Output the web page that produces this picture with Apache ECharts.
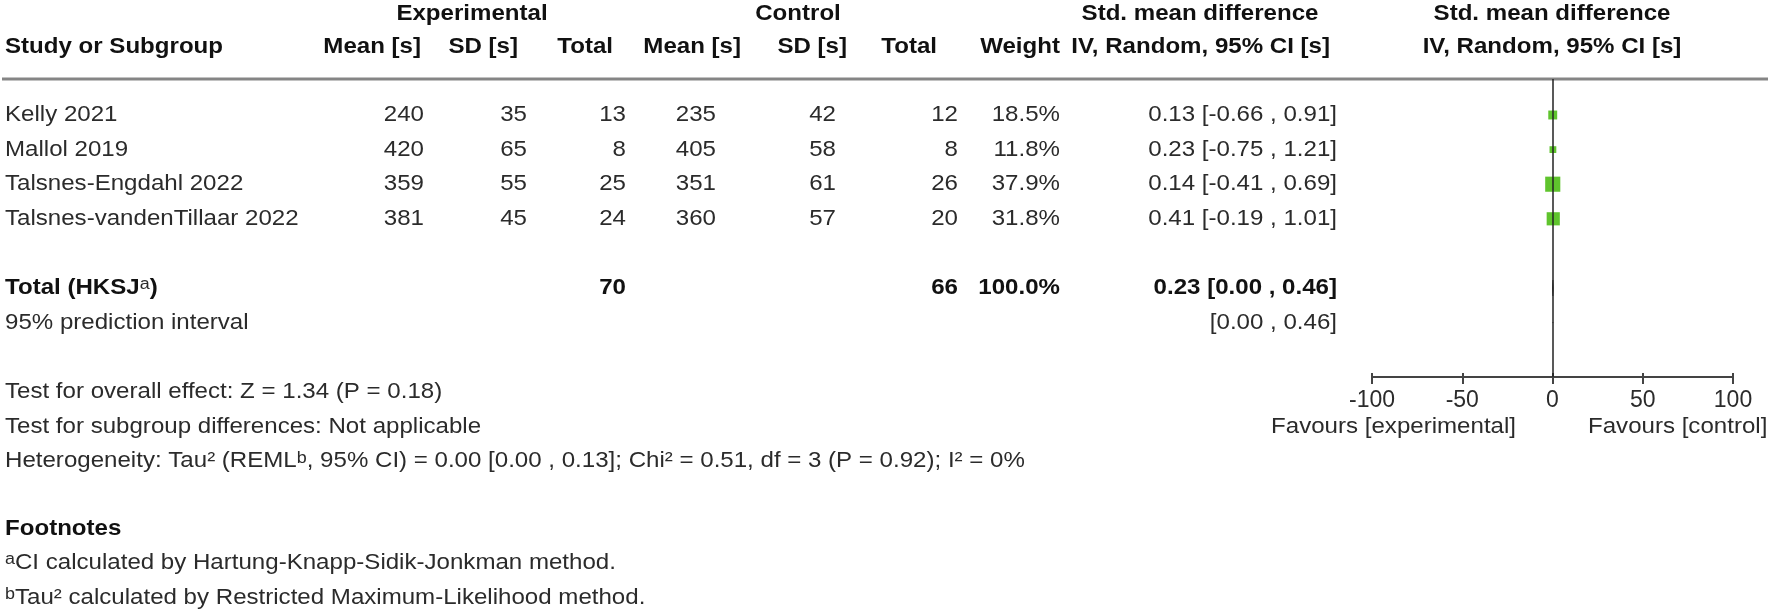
<!DOCTYPE html>
<html><head><meta charset="utf-8">
<script src="https://cdn.jsdelivr.net/npm/echarts@6/dist/echarts.min.js"></script>
<style>html,body{margin:0;padding:0;background:#fff}#c{width:1772px;height:615px}</style>
</head><body><div id="c"></div>
<script>
// ---------------- data ----------------
const studies = ['Kelly 2021', 'Mallol 2019', 'Talsnes-Engdahl 2022', 'Talsnes-vandenTillaar 2022'];
const expMean = [240, 420, 359, 381];
const expSD = [35, 65, 55, 45];
const expN = [13, 8, 25, 24];
const ctlMean = [235, 405, 351, 360];
const ctlSD = [42, 58, 61, 57];
const ctlN = [12, 8, 26, 20];
const weights = [18.5, 11.8, 37.9, 31.8];
const smd = [0.13, 0.23, 0.14, 0.41];
const ciLow = [-0.66, -0.75, -0.41, -0.19];
const ciHigh = [0.91, 1.21, 0.69, 1.01];
const totalExpN = 70, totalCtlN = 66, totalWeight = 100.0;
const totalSmd = 0.23, totalLow = 0.00, totalHigh = 0.46;
const piLow = 0.00, piHigh = 0.46;
const xTicks = [-100, -50, 0, 50, 100];
const headerTop = ['Experimental', 'Control', 'Std. mean difference'];
const headerCols = ['Study or Subgroup', 'Mean [s]', 'SD [s]', 'Total', 'Mean [s]', 'SD [s]', 'Total', 'Weight', 'IV, Random, 95% CI [s]'];
const favours = ['Favours [experimental]', 'Favours [control]'];
const statLines = [
  'Test for overall effect: Z = 1.34 (P = 0.18)',
  'Test for subgroup differences: Not applicable',
  'Heterogeneity: Tau\u00b2 (REML{sup|b}, 95% CI) = 0.00 [0.00 , 0.13]; Chi\u00b2 = 0.51, df = 3 (P = 0.92); I\u00b2 = 0%'
];
const footTitle = 'Footnotes';
const footLines = [
  '{sup|a}CI calculated by Hartung-Knapp-Sidik-Jonkman method.',
  '{sup|b}Tau\u00b2 calculated by Restricted Maximum-Likelihood method.'
];

// ---------------- layout / style ----------------
const FONT = '"Liberation Sans", Arial, sans-serif';
const FS = 21.5, SX = 1.12;
const C_TXT = '#2b2b2b', C_BOLD = '#111';
const ROW0 = 115, ROWH = 34.6, GRID_TOP = 79, AXIS_Y = 377, W = 1772, H = 615;
const yMin = (GRID_TOP - ROW0) / ROWH, yMax = (AXIS_Y - ROW0) / ROWH;
const LABEL_X = 5;
const colRight = [424, 527, 626, 716, 836, 958, 1060, 1337];
const hdrPos = [[5, 'left'], [421, 'right'], [518, 'right'], [613, 'right'], [741, 'right'], [847, 'right'], [937, 'right'], [1060, 'right'], [1330, 'right']];
const topPos = [472, 798, 1200];
const PLOT_L = 1372, PLOT_R = 1733, PLOT_C = 1552;
const rich = {
  sup: { fontSize: 16, lineHeight: 16, verticalAlign: 'top', fontFamily: FONT, fontWeight: 'normal', fill: C_TXT }
};

const fmt2 = v => v.toFixed(2);
const ciText = (m, l, h) => (m == null ? '' : fmt2(m) + ' ') + '[' + fmt2(l) + ' , ' + fmt2(h) + ']';

const rows = [];
studies.forEach((s, i) => rows.push({ r: i, label: s, bold: false,
  cells: [expMean[i], expSD[i], expN[i], ctlMean[i], ctlSD[i], ctlN[i], weights[i].toFixed(1) + '%', ciText(smd[i], ciLow[i], ciHigh[i])] }));
rows.push({ r: 5, label: 'Total (HKSJ{sup|a})', bold: true,
  cells: ['', '', totalExpN, '', '', totalCtlN, totalWeight.toFixed(1) + '%', ciText(totalSmd, totalLow, totalHigh)] });
rows.push({ r: 6, label: '95% prediction interval', bold: false,
  cells: ['', '', '', '', '', '', '', ciText(null, piLow, piHigh)] });

function mkText(x, y, s, align, bold, extra) {
  return Object.assign({
    type: 'text', x: x, y: y, scaleX: SX,
    style: { text: String(s), align: align, verticalAlign: 'middle', fontSize: FS, fontFamily: FONT,
      fontWeight: bold ? 'bold' : 'normal', fill: bold ? C_BOLD : C_TXT, rich: rich }
  }, extra || {});
}

function renderTable(params, api) {
  const row = rows[params.dataIndex];
  const r = api.value(1);
  const y = api.coord([0, r])[1];
  const children = [mkText(api.coord([LABEL_X, r])[0], y, row.label, 'left', row.bold)];
  row.cells.forEach((c, k) => {
    if (c !== '' && c != null) children.push(mkText(api.coord([colRight[k], r])[0], y, c, 'right', row.bold));
  });
  return { type: 'group', children: children };
}

function renderCI(params, api) {
  const lo = api.value(0), hi = api.value(1), r = api.value(2), kind = api.value(3), m = api.value(4);
  const a = api.coord([lo, r]), b = api.coord([hi, r]);
  if (kind === 1) {
    const c = api.coord([m, r]);
    return { type: 'polygon', shape: { points: [[a[0], a[1]], [c[0], c[1] - 8], [b[0], b[1]], [c[0], c[1] + 8]] },
      style: { fill: '#111', stroke: '#111', lineWidth: 0.5 } };
  }
  return { type: 'line', shape: { x1: a[0], y1: a[1], x2: b[0], y2: b[1] }, style: { stroke: '#111', lineWidth: 1 } };
}

const ciData = studies.map((s, i) => [ciLow[i], ciHigh[i], i, 0, smd[i]]);
ciData.push([totalLow, totalHigh, 5, 1, totalSmd]);
ciData.push([piLow, piHigh, 6, 0, totalSmd]);

// static texts
const graphics = [];
graphics.push({ type: 'line', shape: { x1: 2, y1: GRID_TOP, x2: 1768, y2: GRID_TOP }, style: { stroke: '#858585', lineWidth: 3 }, z: 5 });
headerTop.forEach((t, i) => graphics.push(mkText(topPos[i], 14, t, 'center', true)));
graphics.push(mkText(PLOT_C, 14, headerTop[2], 'center', true));
headerCols.forEach((t, i) => graphics.push(mkText(hdrPos[i][0], 47, t, hdrPos[i][1], true)));
graphics.push(mkText(PLOT_C, 47, headerCols[8], 'center', true));
graphics.push(mkText(1516, 427, favours[0], 'right', false));
graphics.push(mkText(1588, 427, favours[1], 'left', false));
statLines.forEach((t, i) => graphics.push(mkText(LABEL_X, 392 + i * ROWH, t, 'left', false)));
graphics.push(mkText(LABEL_X, 529, footTitle, 'left', true));
footLines.forEach((t, i) => graphics.push(mkText(LABEL_X, 563 + i * ROWH, t, 'left', false)));

const chart = echarts.init(document.getElementById('c'), null, { renderer: 'canvas', width: W, height: H });
chart.setOption({
  animation: false,
  backgroundColor: '#fff',
  grid: [
    { left: 0, right: 0, top: GRID_TOP, bottom: H - AXIS_Y },
    { left: PLOT_L, right: W - PLOT_R, top: GRID_TOP, bottom: H - AXIS_Y }
  ],
  xAxis: [
    { gridIndex: 0, type: 'value', min: 0, max: W, show: false },
    { gridIndex: 1, type: 'value', min: xTicks[0], max: xTicks[xTicks.length - 1], interval: 50, position: 'bottom',
      axisLine: { show: true, onZero: false, lineStyle: { color: '#444', width: 2 } },
      axisTick: { show: true, inside: false, length: 7, lineStyle: { color: '#444', width: 2 } },
      splitLine: { show: false },
      axisLabel: { show: true, margin: 12, fontSize: 23, fontFamily: FONT, color: C_TXT,
        customValues: xTicks, formatter: v => String(v) } },
    { gridIndex: 1, type: 'value', min: xTicks[0], max: xTicks[xTicks.length - 1], interval: 50, position: 'bottom',
      axisLine: { show: false, onZero: false },
      axisTick: { show: true, inside: true, length: 4, lineStyle: { color: '#444', width: 2 } },
      splitLine: { show: false }, axisLabel: { show: false } }
  ],
  yAxis: [
    { gridIndex: 0, type: 'value', inverse: true, min: yMin, max: yMax, show: false },
    { gridIndex: 1, type: 'value', inverse: true, min: yMin, max: yMax, show: false }
  ],
  series: [
    { type: 'custom', xAxisIndex: 0, yAxisIndex: 0, renderItem: renderTable, silent: true,
      data: rows.map(r => [0, r.r]), encode: { x: 0, y: 1 }, clip: false, z: 3 },
    { type: 'custom', xAxisIndex: 1, yAxisIndex: 1, renderItem: renderCI, silent: true,
      data: ciData, encode: { x: [0, 1], y: 2 }, z: 2 },
    { type: 'scatter', xAxisIndex: 1, yAxisIndex: 1, symbol: 'rect', silent: true,
      symbolSize: v => 3 + 0.32 * v[2],
      itemStyle: { color: '#5fc42d', opacity: 1 },
      data: studies.map((s, i) => [smd[i], i, weights[i]]), z: 4,
      markLine: { silent: true, symbol: 'none', label: { show: false }, animation: false,
        lineStyle: { color: '#222', width: 1.5, type: 'solid' }, data: [{ xAxis: 0 }] } }
  ],
  graphic: graphics
});
</script>
</body></html>
